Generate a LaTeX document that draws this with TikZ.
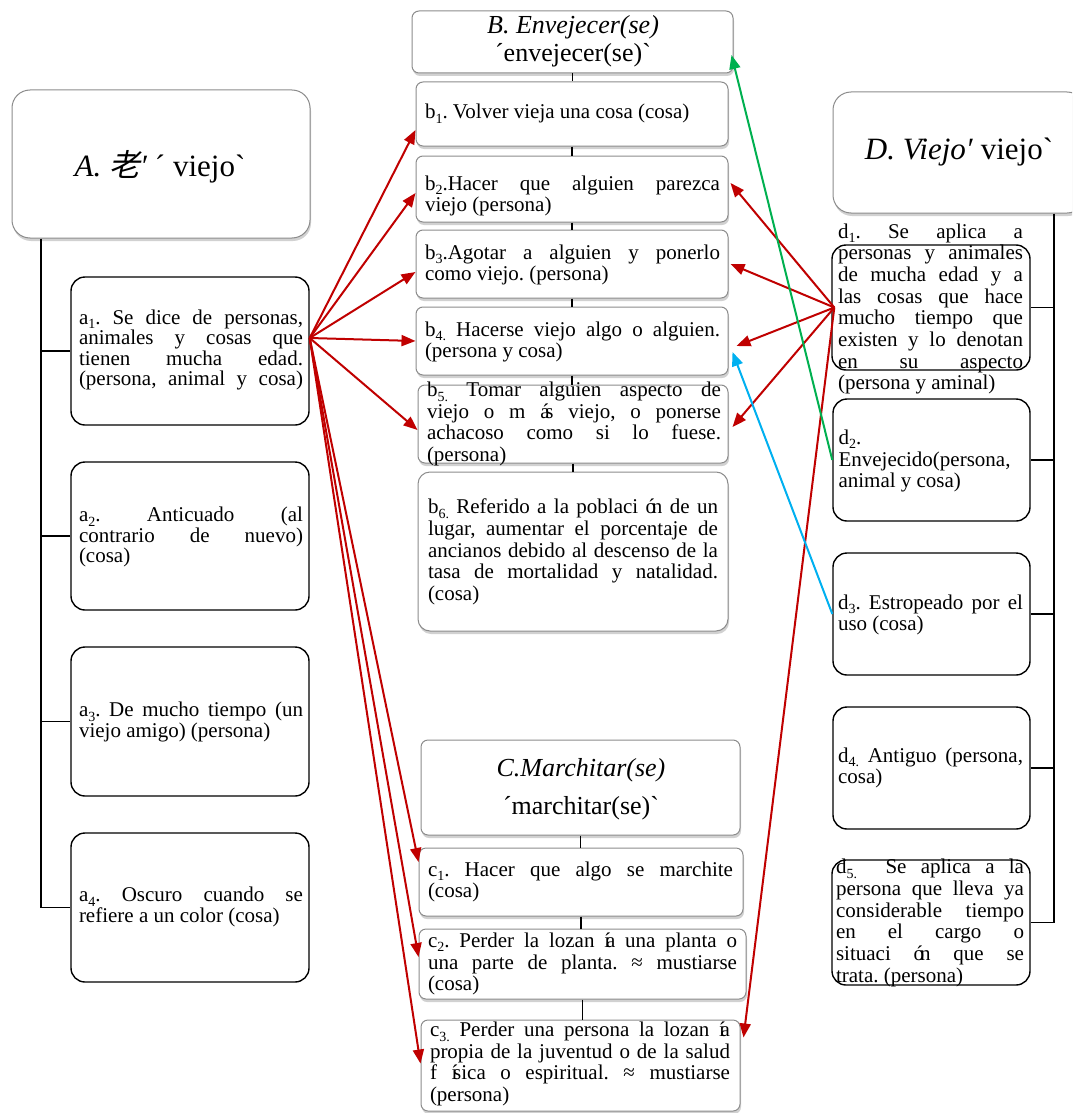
\documentclass[tikz,border=0pt]{standalone}
\usepackage{fontspec}
\setmainfont{Liberation Serif}[Ligatures=TeXOff]
\newfontfamily\cjk{Noto Sans CJK SC}[FakeSlant=0.2]
\usetikzlibrary{arrows.meta,shadows}
\frenchspacing

\definecolor{arrred}{HTML}{C00000}
\definecolor{arrgreen}{HTML}{00B050}
\definecolor{arrblue}{HTML}{00B0F0}
\definecolor{softedge}{HTML}{8C8C8C}

% width of the current text block
\newlength\lw
% one justified line of a definition, followed by a line break
\newcommand\jl[1]{\leavevmode\hbox to\lw{#1}\\}
% a justified line that ends the block
\newcommand\jlast[1]{\leavevmode\hbox to\lw{#1}}
% lowered index after the letter of a sense
\newcommand\sub[1]{\raisebox{-0.22em}{\fontsize{14}{14}\selectfont #1}}
% accented letter pressed onto the following one
\newcommand\ov[2]{#1\kern-0.2em #2}

\tikzset{
  shadowbox/.style={draw=softedge, line width=1pt, fill=white, rounded corners=7pt,
    drop shadow={shadow xshift=1pt, shadow yshift=-3pt, opacity=.4, fill=black!45}},
  plainbox/.style={draw=black, line width=1.4pt, fill=white, rounded corners=14pt},
  tw/.style={text width=#1pt, execute at begin node={\setlength\lw{#1pt}\parindent=0pt
    \spaceskip=0.25em plus 3em minus 0.05em\xspaceskip=\spaceskip}},
  abody/.style={font=\fontsize{21}{20.6}\selectfont, align=left, inner sep=0pt},
  body/.style={font=\fontsize{21}{21.7}\selectfont, align=left, inner sep=0pt},
  link/.style={line width=1.4pt},
  rarrow/.style={arrred, line width=2pt, -{Triangle[length=14pt,width=11pt]}},
  garrow/.style={arrgreen, line width=2pt, -{Triangle[length=14pt,width=11pt]}},
  barrow/.style={arrblue, line width=2pt, -{Triangle[length=14pt,width=11pt]}},
}

\begin{document}
\begin{tikzpicture}[x=1pt, y=-1pt]
\clip (0,0) rectangle (1072,1113);
\fill[white] (0,0) rectangle (1072,1113);

% ---------- A: 老 ----------
\node[shadowbox, rounded corners=18pt, minimum width=298pt, minimum height=148pt] (A) at (161,164) {};
\node[font=\fontsize{31}{34}\selectfont, inner sep=0pt] (At) at (160,167) {\textit{A. {\cjk 老}′} ´ viejo`};

\node[plainbox, minimum width=238pt, minimum height=148pt] (a1) at (190,351) {};
\node[plainbox, minimum width=238pt, minimum height=148pt] (a2) at (190,536) {};
\node[plainbox, minimum width=238pt, minimum height=149pt] (a3) at (190,721.5) {};
\node[plainbox, minimum width=238pt, minimum height=149pt] (a4) at (190,907.5) {};

\node[abody, tw=224] (a1t) at (191,350) {\jl{a\sub{1}. Se dice de personas,}\jl{animales y cosas que}\jl{tienen mucha edad.}\jlast{(persona, animal y cosa)}};
\node[abody, tw=224] (a2t) at (191,537) {\jl{a\sub{2}. Anticuado (al}\jl{contrario de nuevo)}(cosa)};
\node[abody, tw=224] (a3t) at (191,722) {\jl{a\sub{3}. De mucho tiempo (un}viejo amigo) (persona)};
\node[abody, tw=224] (a4t) at (191,907) {\jl{a\sub{4}. Oscuro cuando se}refiere a un color (cosa)};

\coordinate (Atrunk) at ([xshift=-120pt]A.south);
\draw[link] (Atrunk) |- (a4.west);
\draw[link] (Atrunk |- a1.west) -- (a1.west);
\draw[link] (Atrunk |- a2.west) -- (a2.west);
\draw[link] (Atrunk |- a3.west) -- (a3.west);

% ---------- B: envejecer(se) ----------
\node[shadowbox, minimum width=321pt, minimum height=62pt] (B) at (572.5,42) {};
\node[font=\fontsize{26}{28}\selectfont, align=center, inner sep=0pt] (Bt) at (573,41) {\textit{B. Envejecer(se)}\\´envejecer(se)`};

\node[shadowbox, minimum width=312pt, minimum height=64pt] (b1) at (572,114) {};
\node[shadowbox, minimum width=312pt, minimum height=66pt] (b2) at (572,189) {};
\node[shadowbox, minimum width=312pt, minimum height=68pt] (b3) at (572,264) {};
\node[shadowbox, minimum width=312pt, minimum height=68pt] (b4) at (572,341) {};
\node[shadowbox, minimum width=310pt, minimum height=78pt] (b5) at (573,424) {};
\node[shadowbox, rounded corners=12pt, minimum width=310pt, minimum height=159pt] (b6) at (573,551.5) {};

\draw[link, line width=1.2pt] (B.south) -- (B.south |- b1.north);
\draw[link, line width=1.2pt] (b1.south) -- (b2.north);
\draw[link, line width=1.2pt] (b2.south) -- (b3.north);
\draw[link, line width=1.2pt] (b3.south) -- (b4.north);
\draw[link, line width=1.2pt] (b4.south) -- (b4.south |- b5.north);
\draw[link, line width=1.2pt] (b5.south) -- (b6.north);

\node[body, tw=295] (b1t) at (572.5,114) {b\sub{1}. Volver vieja una cosa (cosa)};
\node[body, tw=295] (b2t) at (572.5,196) {\jl{b\sub{2}.Hacer que alguien parezca}viejo (persona)};
\node[body, tw=295] (b3t) at (572.5,265) {\jl{b\sub{3}.Agotar a alguien y ponerlo}como viejo. (persona)};
\node[body, tw=295] (b4t) at (572.5,342) {\jl{b\sub{4.} Hacerse viejo algo o alguien.}(persona y cosa)};
\node[body, tw=294] (b5t) at (574,424) {\jl{b\sub{5.} Tomar alguien aspecto de}\jl{viejo o m \ov{á}{s} viejo, o ponerse}\jl{achacoso como si lo fuese.}(persona)};
\node[body, tw=290] (b6t) at (573,552) {\jl{b\sub{6.} Referido a la poblaci \ov{ó}{n} de un}\jl{lugar, aumentar el porcentaje de}\jl{ancianos debido al descenso de la}\jl{tasa de mortalidad y natalidad.}(cosa)};

% ---------- C: marchitar(se) ----------
\node[shadowbox, minimum width=319pt, minimum height=95pt] (C) at (580.5,787.5) {};
\node[font=\fontsize{26}{38}\selectfont, align=center, inner sep=0pt] (Ct) at (581,789) {\textit{C.Marchitar(se)}\\´marchitar(se)`};

\node[shadowbox, minimum width=324pt, minimum height=68pt] (c1) at (581,882) {};
\node[shadowbox, minimum width=327pt, minimum height=70pt] (c2) at (582.5,964) {};
\node[shadowbox, minimum width=319pt, minimum height=91pt] (c3) at (580.5,1065.5) {};

\draw[link, line width=1.2pt] (C.south) -- (C.south |- c1.north);
\draw[link, line width=1.2pt] (c1.south) -- (c1.south |- c2.north);
\draw[link, line width=1.2pt] (c2.south) -- (c2.south |- c3.north);

\node[body, tw=305] (c1t) at (580.5,882) {\jl{c\sub{1}. Hacer que algo se marchite}(cosa)};
\node[body, tw=309] (c2t) at (582.5,964) {\jl{c\sub{2}. Perder la lozan \ov{í}{a} una planta o}\jl{una parte de planta. ≈ mustiarse}(cosa)};
\node[body, tw=300] (c3t) at (580,1064) {\jl{c\sub{3.} Perder una persona la lozan \ov{í}{a}}\jl{propia de la juventud o de la salud}\jl{f \ov{í}{s}ica o espiritual. ≈ mustiarse}(persona)};

% ---------- D: viejo ----------
\node[shadowbox, rounded corners=18pt, minimum width=252pt, minimum height=121pt] (D) at (959,152.5) {};
\node[font=\fontsize{31}{34}\selectfont, inner sep=0pt] (Dt) at (959,152) {\textit{D. Viejo′} viejo`};

\node[plainbox, fill=none, minimum width=198pt, minimum height=125pt] (d1) at (931,307.5) {};
\node[plainbox, minimum width=197pt, minimum height=122pt] (d2) at (931.5,460) {};
\node[plainbox, minimum width=197pt, minimum height=122pt] (d3) at (931.5,614) {};
\node[plainbox, minimum width=197pt, minimum height=122pt] (d4) at (931.5,768) {};
\node[plainbox, fill=none, minimum width=198pt, minimum height=125pt] (d5) at (931,922.5) {};

\node[body, tw=185] (d1t) at (930.5,309) {\jl{d\sub{1}. Se aplica a}\jl{personas y animales}\jl{de mucha edad y a}\jl{las cosas que hace}\jl{mucho tiempo que}\jl{existen y lo denotan}\jl{en su aspecto}(persona y aminal)};
\node[body, tw=185] (d2t) at (931,461) {d\sub{2}.\\Envejecido(persona,\\animal y cosa)};
\node[body, tw=185] (d3t) at (930.5,615) {\jl{d\sub{3}. Estropeado por el}uso (cosa)};
\node[body, tw=185] (d4t) at (930.5,768) {\jl{d\sub{4.} Antiguo (persona,}cosa)};
\node[body, tw=188] (d5t) at (930,923) {\jl{d\sub{5.}\ \ Se aplica a la}\jl{persona que lleva ya}\jl{considerable tiempo}\jl{en el cargo o}\jl{situaci \ov{ó}{n} que se}trata. (persona)};

\coordinate (Dtrunk) at ([xshift=95pt]D.south);
\draw[link] (Dtrunk) |- (d5.east);
\draw[link] (Dtrunk |- d1.east) -- (d1.east);
\draw[link] (Dtrunk |- d2.east) -- (d2.east);
\draw[link] (Dtrunk |- d3.east) -- (d3.east);
\draw[link] (Dtrunk |- d4.east) -- (d4.east);

% ---------- relations ----------
\coordinate (aout) at ([yshift=13pt]a1.east);
\draw[rarrow] (aout) -- ([yshift=-16pt]b1.west);
\draw[rarrow] (aout) -- ([yshift=-4pt]b2.west);
\draw[rarrow] (aout) -- ([yshift=-8pt]b3.west);
\draw[rarrow] (aout) -- (b4.west);
\draw[rarrow] (aout) -- ([yshift=-6pt]b5.west);
\draw[rarrow] (aout) -- ([yshift=20pt]c1.west);
\draw[rarrow] (aout) -- ([yshift=7pt]c2.west);
\draw[rarrow] (aout) -- ([yshift=2pt]c3.west);

\coordinate (dout) at ([xshift=3pt]d1.west);
\draw[rarrow] (dout) -- ([xshift=2pt,yshift=6pt]b2.east);
\draw[rarrow] (dout) -- ([xshift=2pt]b3.east);
\draw[rarrow] (dout) -- ([xshift=8pt,yshift=-5pt]b4.east);
\draw[rarrow] (dout) -- ([xshift=4pt,yshift=-3pt]b5.east);
\draw[rarrow] (dout) -- ([xshift=3pt,yshift=28pt]c3.east);

\draw[garrow] (d2.west) -- ([xshift=-2pt,yshift=-13pt]B.east);
\draw[barrow] (d3.west) -- ([xshift=4pt,yshift=-11pt]b4.east);
\end{tikzpicture}
\end{document}
